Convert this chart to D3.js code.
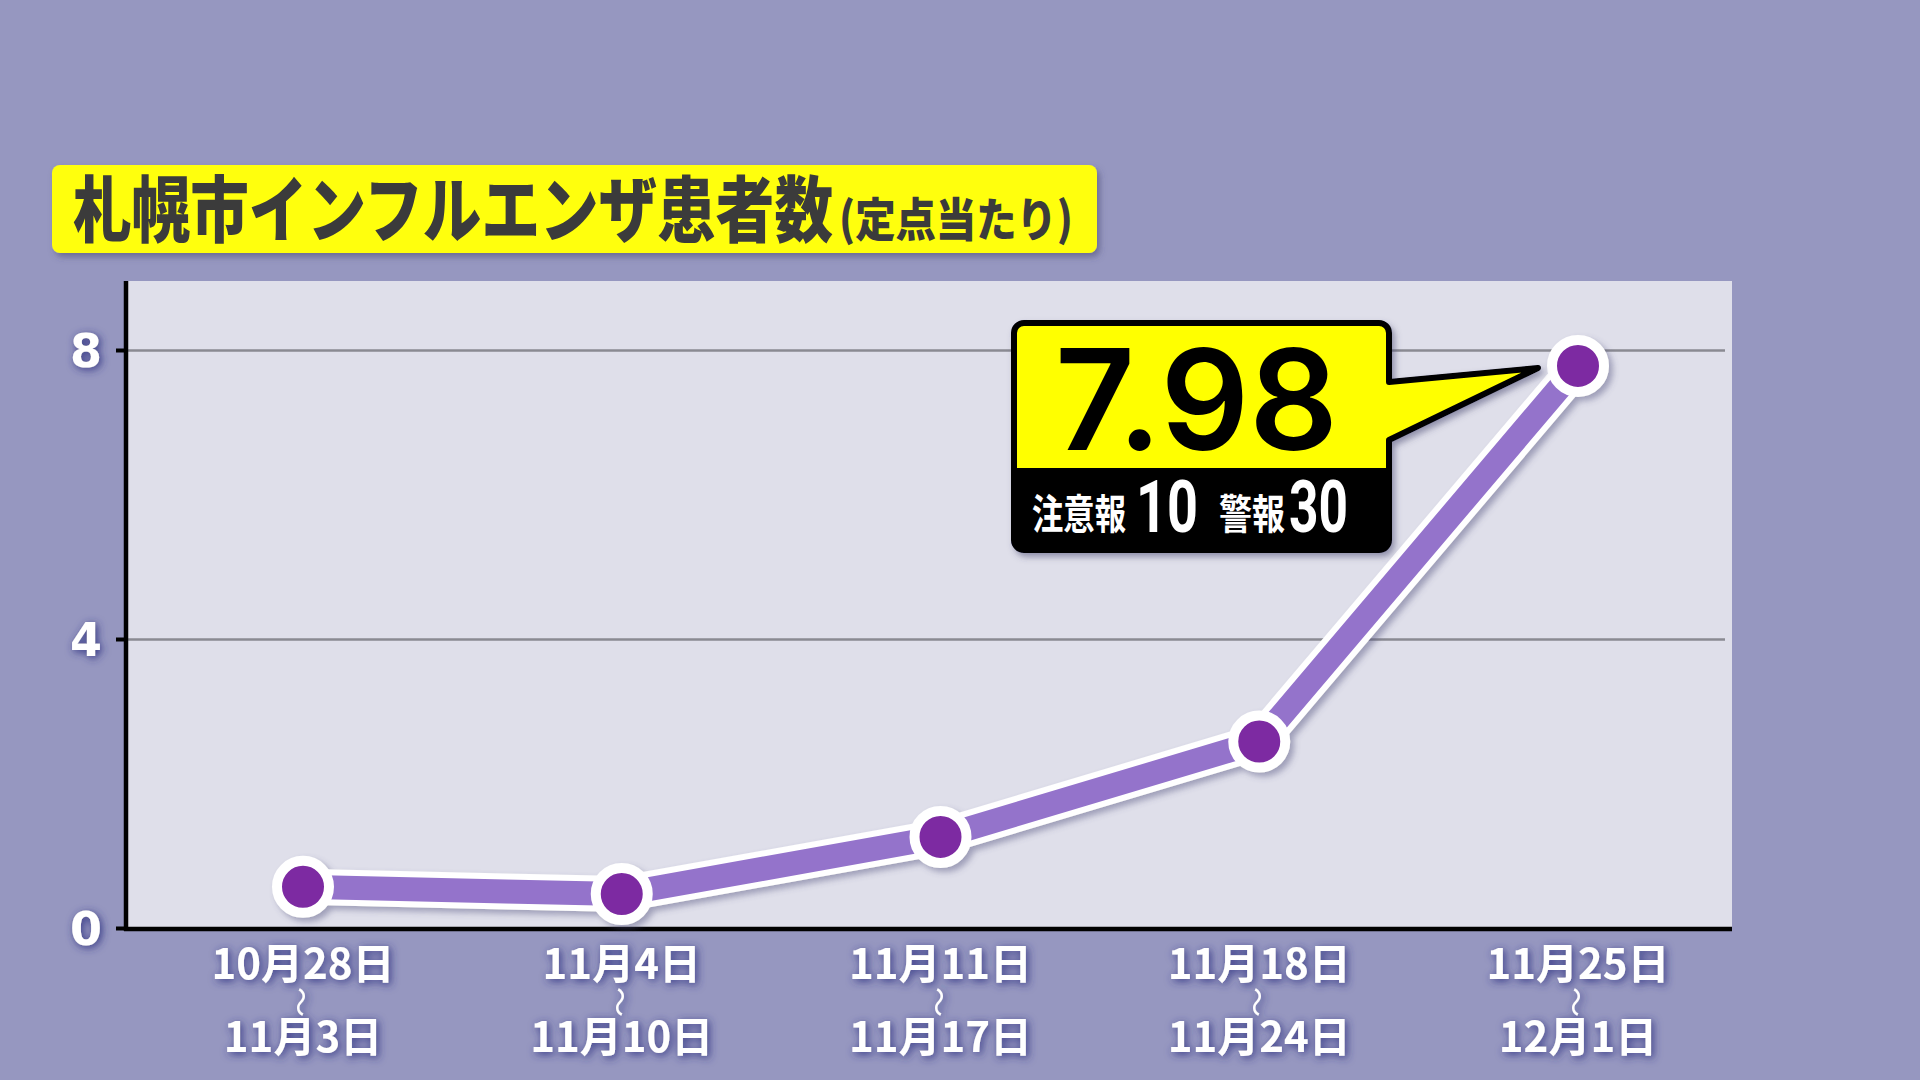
<!DOCTYPE html>
<html>
<head>
<meta charset="utf-8">
<script src="https://cdn.jsdelivr.net/npm/d3@7"></script>
<style>
  html, body { margin: 0; padding: 0; background: #9697c0; }
  svg { display: block; }
</style>
</head>
<body>
<svg id="chart" width="1920" height="1080"></svg>
<script>
// ---- data ----
const weekStart = ["10月28日", "11月4日", "11月11日", "11月18日", "11月25日"];
const weekEnd = ["11月3日", "11月10日", "11月17日", "11月24日", "12月1日"];
const values = [0.57, 0.47, 1.26, 2.58, 7.78];
const yTicks = [0, 4, 8];
const gridTicks = [4, 8];
const titleMain = "札幌市インフルエンザ患者数";
const titleSub = "(定点当たり)";
const calloutValue = "7.98";
const calloutNotes = ["注意報", "10", "警報", "30"];

const svg = d3.select("#chart");
const defs = svg.append("defs");

// filters
const sh = defs.append("filter").attr("id", "markShadow")
  .attr("x", "-10%").attr("y", "-10%").attr("width", "130%").attr("height", "130%");
sh.append("feDropShadow").attr("dx", 4).attr("dy", 4).attr("stdDeviation", 3)
  .attr("flood-color", "#50507a").attr("flood-opacity", 0.45);

const glow = defs.append("filter").attr("id", "textGlow")
  .attr("x", "-30%").attr("y", "-40%").attr("width", "160%").attr("height", "180%");
glow.append("feGaussianBlur").attr("in", "SourceAlpha").attr("stdDeviation", 4).attr("result", "b");
glow.append("feOffset").attr("in", "b").attr("dx", 2).attr("dy", 2).attr("result", "o");
glow.append("feFlood").attr("flood-color", "#2c2f80").attr("flood-opacity", 0.95);
glow.append("feComposite").attr("in2", "o").attr("operator", "in").attr("result", "s");
const gm = glow.append("feMerge");
gm.append("feMergeNode").attr("in", "s");
gm.append("feMergeNode").attr("in", "SourceGraphic");

const boxSh = defs.append("filter").attr("id", "boxShadow")
  .attr("x", "-5%").attr("y", "-20%").attr("width", "115%").attr("height", "150%");
boxSh.append("feDropShadow").attr("dx", 3).attr("dy", 4).attr("stdDeviation", 3)
  .attr("flood-color", "#40406a").attr("flood-opacity", 0.5);

// layout
const plotL = 126, plotR = 1732, plotT = 281, plotB = 929;

const x = d3.scalePoint().domain(weekStart).range([303, 1578]);
const y = d3.scaleLinear().domain([0, 8]).range([928, 350]);

// plot background
svg.append("rect").attr("x", plotL).attr("y", plotT)
  .attr("width", plotR - plotL).attr("height", plotB - plotT)
  .attr("fill", "#dfdfea");

// gridlines
const grid = svg.append("g").attr("transform", `translate(${plotL},0)`)
  .call(d3.axisLeft(y).tickValues(gridTicks).tickSize(-(1725 - plotL)).tickFormat(""));
grid.select(".domain").remove();
grid.selectAll("line").attr("stroke", "#8a8a92").attr("stroke-width", 2.5);

// y axis
const yAxis = svg.append("g").attr("transform", `translate(${plotL},0)`)
  .call(d3.axisLeft(y).tickValues(yTicks).tickSize(10).tickSizeOuter(0).tickPadding(14));
yAxis.select(".domain").remove();
yAxis.selectAll("line").attr("stroke", "#000").attr("stroke-width", 4);
yAxis.selectAll("text")
  .attr("fill", "#fff")
  .attr("font-family", "'DejaVu Sans', sans-serif")
  .attr("font-weight", "bold")
  .attr("font-size", 46)
  .attr("dy", "0.36em")
  .attr("filter", "url(#textGlow)");

svg.append("line").attr("x1", plotL).attr("x2", plotL).attr("y1", plotT).attr("y2", plotB + 2)
  .attr("stroke", "#000").attr("stroke-width", 4.5);
svg.append("line").attr("x1", plotL - 2).attr("x2", plotR).attr("y1", plotB).attr("y2", plotB)
  .attr("stroke", "#000").attr("stroke-width", 4.5);

// x labels
const xl = svg.append("g").attr("filter", "url(#textGlow)")
  .attr("font-family", "'Noto Sans CJK JP', sans-serif").attr("font-weight", "bold")
  .attr("fill", "#fff").attr("text-anchor", "middle");
weekStart.forEach((d, i) => {
  const cx = x(d);
  xl.append("text").attr("x", cx).attr("y", 979).attr("font-size", 42).text(d);
  xl.append("text").attr("font-size", 30).attr("font-weight", "normal")
    .attr("transform", `translate(${cx},1002) rotate(90)`)
    .attr("dominant-baseline", "central").text("〜");
  xl.append("text").attr("x", cx).attr("y", 1052).attr("font-size", 42).text(weekEnd[i]);
});

// line + points
const pts = values.map((v, i) => [x(weekStart[i]), y(v)]);
const lineGen = d3.line();
const series = svg.append("g").attr("filter", "url(#markShadow)");
series.append("path").attr("d", lineGen(pts)).attr("fill", "none")
  .attr("stroke", "#fff").attr("stroke-width", 36).attr("stroke-linejoin", "round");
series.append("path").attr("d", lineGen(pts)).attr("fill", "none")
  .attr("stroke", "#9473cb").attr("stroke-width", 24).attr("stroke-linejoin", "round");
series.selectAll("circle").data(pts).join("circle")
  .attr("cx", d => d[0]).attr("cy", d => d[1]).attr("r", 26)
  .attr("fill", "#7d2aa2").attr("stroke", "#fff").attr("stroke-width", 10);

// title
svg.append("rect").attr("x", 52).attr("y", 165).attr("width", 1045).attr("height", 88)
  .attr("rx", 8).attr("fill", "#ffff0a").attr("filter", "url(#boxShadow)");
svg.append("text").attr("x", 73).attr("y", 236)
  .attr("font-family", "'Noto Sans CJK JP', sans-serif").attr("font-weight", 900)
  .attr("font-size", 72).attr("fill", "#3b3b3b")
  .attr("textLength", 760).attr("lengthAdjust", "spacingAndGlyphs")
  .text(titleMain);
svg.append("text").attr("x", 839).attr("y", 236)
  .attr("font-family", "'Noto Sans CJK JP', sans-serif").attr("font-weight", 900)
  .attr("font-size", 46).attr("fill", "#3b3b3b")
  .attr("textLength", 234).attr("lengthAdjust", "spacingAndGlyphs")
  .text(titleSub);

// callout
const L = 1014, T = 323, R = 1389, B = 550, r = 10, bandTop = 468;
const tip = [1538, 368];
const calloutPath = `M${L + r},${T} H${R - r} A${r},${r} 0 0 1 ${R},${T + r} V382 L${tip[0]},${tip[1]} L${R},440 V${B - r} A${r},${r} 0 0 1 ${R - r},${B} H${L + r} A${r},${r} 0 0 1 ${L},${B - r} V${T + r} A${r},${r} 0 0 1 ${L + r},${T} Z`;
const cg = svg.append("g");
cg.append("path").attr("d", calloutPath).attr("fill", "#ffff00")
  .attr("stroke", "#000").attr("stroke-width", 6).attr("stroke-linejoin", "round")
  .attr("filter", "url(#boxShadow)");
cg.append("path")
  .attr("d", `M${L},${bandTop} H${R} V${B - r} A${r},${r} 0 0 1 ${R - r},${B} H${L + r} A${r},${r} 0 0 1 ${L},${B - r} Z`)
  .attr("fill", "#000");
cg.append("text").attr("x", 1055).attr("y", 450)
  .attr("font-family", "Inter, Roboto, 'Liberation Sans', sans-serif").attr("font-weight", 600)
  .attr("font-size", 140).attr("fill", "#000")
  .attr("textLength", 283).attr("lengthAdjust", "spacingAndGlyphs")
  .text(calloutValue);

const noteSpecs = [
  { x: 1032, len: 94, size: 41, y: 529, cjk: true },
  { x: 1136, len: 62, size: 72, y: 532, cjk: false },
  { x: 1219, len: 66, size: 41, y: 529, cjk: true },
  { x: 1289, len: 59, size: 72, y: 532, cjk: false }
];
calloutNotes.forEach((t, i) => {
  const s = noteSpecs[i];
  cg.append("text").attr("x", s.x).attr("y", s.y)
    .attr("font-family", s.cjk ? "'Noto Sans CJK JP', sans-serif" : "Roboto, 'Liberation Sans', sans-serif")
    .attr("font-weight", "bold").attr("font-size", s.size).attr("fill", "#fff")
    .attr("textLength", s.len).attr("lengthAdjust", "spacingAndGlyphs")
    .text(t);
});
</script>
</body>
</html>
